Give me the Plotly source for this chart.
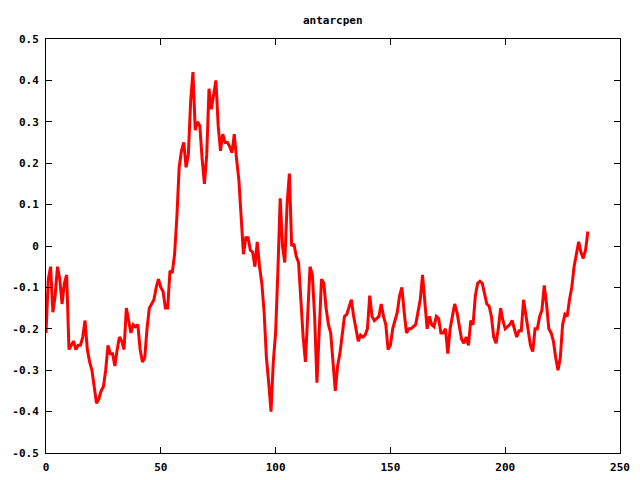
import plotly.graph_objects as go

title_text = "antarcpen"

values = [
    -0.21, -0.08, -0.05, -0.16, -0.12, -0.05, -0.08, -0.14, -0.09, -0.07,
    -0.25, -0.24, -0.23, -0.25, -0.24, -0.24, -0.22, -0.18, -0.25, -0.28,
    -0.30, -0.34, -0.38, -0.37, -0.35, -0.34, -0.30, -0.24, -0.26, -0.26,
    -0.29, -0.25, -0.22, -0.23, -0.25, -0.15, -0.18, -0.21, -0.19, -0.195,
    -0.19, -0.25, -0.28, -0.27, -0.20, -0.15, -0.14, -0.13, -0.10, -0.08,
    -0.10, -0.11, -0.15, -0.15, -0.06, -0.065, -0.02, 0.07, 0.19, 0.23,
    0.25, 0.19, 0.22, 0.35, 0.42, 0.28, 0.30, 0.29, 0.21, 0.15,
    0.22, 0.38, 0.33, 0.37, 0.40, 0.29, 0.23, 0.27, 0.25, 0.25,
    0.24, 0.225, 0.27, 0.21, 0.16, 0.07, -0.02, 0.02, 0.02, -0.01,
    -0.015, -0.05, 0.01, -0.05, -0.09, -0.16, -0.27, -0.33, -0.40, -0.28,
    -0.21, -0.06, 0.115, 0.0, -0.04, 0.10, 0.175, 0.0, 0.005, -0.025,
    -0.04, -0.13, -0.22, -0.28, -0.17, -0.05, -0.07, -0.17, -0.33, -0.20,
    -0.08, -0.09, -0.15, -0.19, -0.21, -0.28, -0.35, -0.29, -0.26, -0.215,
    -0.17, -0.165, -0.145, -0.13, -0.17, -0.20, -0.23, -0.215, -0.22, -0.215,
    -0.20, -0.12, -0.17, -0.18, -0.175, -0.17, -0.14, -0.17, -0.19, -0.25,
    -0.24, -0.20, -0.18, -0.16, -0.12, -0.10, -0.16, -0.21, -0.20, -0.20,
    -0.195, -0.19, -0.16, -0.13, -0.07, -0.14, -0.20, -0.17, -0.19, -0.195,
    -0.17, -0.175, -0.21, -0.21, -0.20, -0.26, -0.20, -0.17, -0.14, -0.16,
    -0.195, -0.225, -0.235, -0.22, -0.24, -0.18, -0.19, -0.12, -0.09, -0.085,
    -0.09, -0.12, -0.14, -0.145, -0.17, -0.22, -0.235, -0.20, -0.15, -0.18,
    -0.20, -0.195, -0.19, -0.18, -0.20, -0.22, -0.205, -0.205, -0.13, -0.17,
    -0.20, -0.24, -0.255, -0.20, -0.20, -0.17, -0.155, -0.095, -0.14, -0.20,
    -0.21, -0.23, -0.27, -0.30, -0.27, -0.19, -0.165, -0.17, -0.13, -0.10,
    -0.05, -0.02, 0.01, -0.015, -0.03, -0.01, 0.035,
]
x_index = list(range(len(values)))

x_tick_vals = [0, 50, 100, 150, 200, 250]
x_tick_text = ["0", "50", "100", "150", "200", "250"]
y_tick_vals = [-0.5, -0.4, -0.3, -0.2, -0.1, 0, 0.1, 0.2, 0.3, 0.4, 0.5]
y_tick_text = ["-0.5", "-0.4", "-0.3", "-0.2", "-0.1", "0", "0.1", "0.2", "0.3", "0.4", "0.5"]

font_family = "DejaVu Sans Mono"

fig = go.Figure()
fig.add_trace(go.Scatter(
    x=x_index, y=values, mode="lines",
    line=dict(color="#ff0000", width=3),
    showlegend=False,
))

axis_common = dict(
    showline=True, linecolor="black", linewidth=1, mirror="ticks",
    ticks="inside", ticklen=6, tickcolor="black", tickwidth=1,
    showgrid=False, zeroline=False, automargin=False,
    tickfont=dict(family=font_family, size=11, color="black", weight="bold"),
)

fig.update_layout(
    width=640, height=480,
    paper_bgcolor="white", plot_bgcolor="white",
    margin=dict(l=46, r=20, t=39, b=27),
    title=dict(text=title_text, x=0.52, xanchor="center", y=0.958, yanchor="middle",
               font=dict(family=font_family, size=11, color="black", weight="bold")),
    xaxis=dict(range=[0, 250], tickmode="array", tickvals=x_tick_vals,
               ticktext=x_tick_text, ticklabelstandoff=4, **axis_common),
    yaxis=dict(range=[-0.5, 0.5], tickmode="array", tickvals=y_tick_vals,
               ticktext=y_tick_text, ticklabelstandoff=4, **axis_common),
)

fig.write_html("out.html",
               config={"displayModeBar": False},
               post_script="document.body.style.margin='0';document.body.style.overflow='hidden';")
